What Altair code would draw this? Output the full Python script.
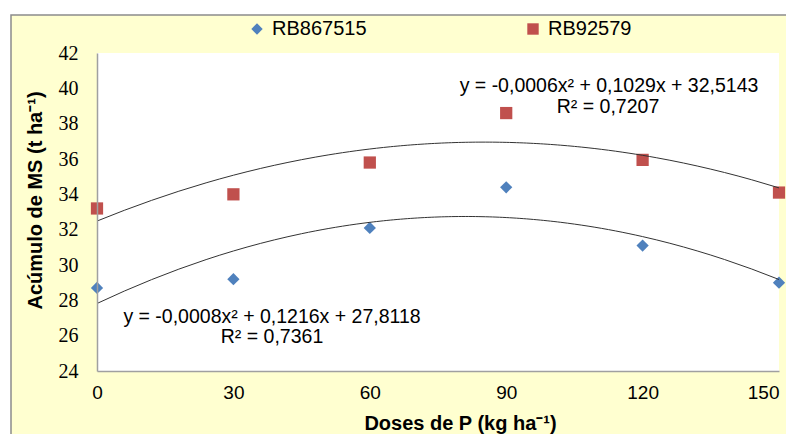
import altair as alt
import pandas as pd

doses = [0, 30, 60, 90, 120, 150]
rb867515 = [28.7, 29.2, 32.1, 34.4, 31.1, 29.0]
rb92579 = [33.2, 34.0, 35.8, 38.6, 35.95, 34.1]
series_names = ["RB867515", "RB92579"]
y_ticks = [24, 26, 28, 30, 32, 34, 36, 38, 40, 42]
x_ticks = [0, 30, 60, 90, 120, 150]
eq_top = ["y = -0,0006x² + 0,1029x + 32,5143", "R² = 0,7207"]
eq_bot = ["y = -0,0008x² + 0,1216x + 27,8118", "R² = 0,7361"]

rows = []
for d, v in zip(doses, rb867515):
    rows.append({"dose": d, "val": v, "series": series_names[0]})
for d, v in zip(doses, rb92579):
    rows.append({"dose": d, "val": v, "series": series_names[1]})
df = pd.DataFrame(rows)

W, H = 682, 318
one = pd.DataFrame({"k": [0]})

xs = alt.Scale(domain=[0, 150], nice=False)
ys = alt.Scale(domain=[24, 42], nice=False)

x_axis = alt.Axis(values=x_ticks, title="Doses de P (kg ha⁻¹)", grid=False, ticks=False, tickSize=0,
                  labelFont="Liberation Sans", labelFontSize=19, labelColor="black",
                  labelPadding=12, labelFlush=False, labelOverlap=False,
                  labelAlign=alt.expr("datum.value >= 150 ? 'right' : 'center'"),
                  domainColor="#a0a0a0", domainWidth=1.5, zindex=1,
                  titleFont="Liberation Sans", titleFontSize=20, titleFontWeight="bold",
                  titleColor="black", titleX=363, titleY=52, titleBaseline="middle",
                  titleAlign="center")
y_axis = alt.Axis(values=y_ticks, tickCount=10, title="Acúmulo de MS (t ha⁻¹)", grid=False, ticks=False,
                  tickSize=0, labelFontSize=20, labelColor="black",
                  labelPadding=19, labelOverlap=False, labelFlush=False,
                  domainColor="#a0a0a0", domainWidth=1.5, zindex=1,
                  titleFont="Liberation Sans", titleFontSize=20, titleFontWeight="bold",
                  titleColor="black", titleX=-62, titleY=147, titleBaseline="middle",
                  titleAlign="center", titleAngle=-90)

frame = alt.Chart(one).mark_rect(fill="#FFFFD0", stroke="#8c8c8c", strokeWidth=1.5).encode(
    x=alt.value(-86), x2=alt.value(W + 40), y=alt.value(-38), y2=alt.value(H + 80)
)
white = alt.Chart(one).mark_rect(fill="white").encode(
    x=alt.value(0), x2=alt.value(W), y=alt.value(0), y2=alt.value(H)
)

base = alt.Chart(df)

points = base.mark_point(filled=True, opacity=1, size=150).encode(
    x=alt.X("dose:Q", scale=xs, axis=x_axis),
    y=alt.Y("val:Q", scale=ys, axis=y_axis),
    color=alt.Color("series:N", scale=alt.Scale(domain=series_names, range=["#4F81BD", "#C0504D"]),
                    legend=alt.Legend(orient="none", legendX=150, legendY=-34, direction="horizontal",
                                      title=None, labelFont="Liberation Sans", labelFontSize=20,
                                      labelColor="black", columnPadding=156, symbolSize=130,
                                      labelOffset=5, zindex=1)),
    shape=alt.Shape("series:N", scale=alt.Scale(domain=series_names, range=["diamond", "square"]),
                    legend=None),
)

trend = base.transform_regression(
    "dose", "val", method="poly", order=2, groupby=["series"], extent=[0, 150]
).mark_line(color="#333333", strokeWidth=1).encode(
    x=alt.X("dose:Q", scale=xs, axis=x_axis),
    y=alt.Y("val:Q", scale=ys, axis=y_axis),
    detail="series:N"
)

def txt(s, x, y):
    return alt.Chart(one).mark_text(font="Liberation Sans", fontSize=19.5, color="black",
                                    align="center", baseline="middle").encode(
        x=alt.value(x), y=alt.value(y), text=alt.value(s))

texts = [txt(eq_top[0], 512, 33), txt(eq_top[1], 511, 54),
         txt(eq_bot[0], 175, 264), txt(eq_bot[1], 175, 284)]

chart = alt.layer(frame, white, points, trend, *texts).properties(
    width=W, height=H, autosize="none",
    padding={"left": 89, "top": 45, "right": 7, "bottom": 63},
    background="white",
).configure_view(stroke=None, fill=None).configure_axisLeft(
    labelFont="Liberation Serif"
).configure_axisY(labelFont="Liberation Serif")

chart.save("out.html", embed_options={"renderer": "svg", "actions": False})
